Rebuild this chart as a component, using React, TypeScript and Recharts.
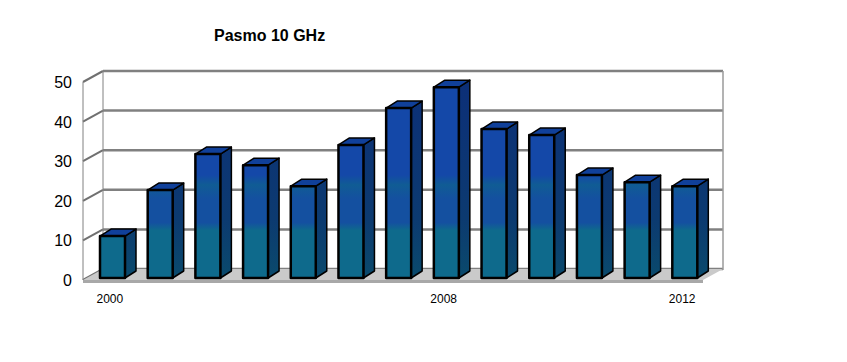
import React from 'react';
import { ComposedChart, Bar, XAxis, YAxis, CartesianGrid } from 'recharts';

const slots = [0, 1, 2, 3, 4, 5, 6, 7, 8, 9, 10, 11, 12];
const slotLabels = ['2000', '', '', '', '', '', '', '2008', '', '', '', '', '2012'];
const values = [10.6, 22.2, 31.3, 28.5, 23.2, 33.6, 42.9, 48.2, 37.6, 36.1, 26, 24.2, 23.2];
const yTicks = [0, 10, 20, 30, 40, 50];

const rows = slots.map((slot, i) => ({ slot, value: values[i] }));

const WIDTH = 847;
const HEIGHT = 362;
const margin = { top: 80, right: 138, bottom: 83, left: 88 };
const FONT = '"Liberation Sans", Arial, sans-serif';

// fake 3D offsets
const WALL_DX = 20;
const WALL_DY = -9;
const BAR_DX = 11;
const BAR_DY = -7;
const FRONT_LEFT = 83;
const FRONT_RIGHT = 703;
const FLOOR_Y = 280;

const Room = () => (
  <g>
    <polygon
      points={`${FRONT_LEFT},${FLOOR_Y} ${FRONT_LEFT + WALL_DX},${FLOOR_Y + WALL_DY - 2} ${FRONT_RIGHT + WALL_DX},${FLOOR_Y + WALL_DY - 2} ${FRONT_RIGHT},${FLOOR_Y}`}
      fill="#cacaca"
    />
    <line x1={FRONT_LEFT} y1={82} x2={FRONT_LEFT} y2={FLOOR_Y} stroke="#808080" />
    <line x1={FRONT_LEFT + WALL_DX} y1={71} x2={FRONT_LEFT + WALL_DX} y2={270} stroke="#808080" />
    <line x1={FRONT_RIGHT + WALL_DX} y1={71} x2={FRONT_RIGHT + WALL_DX} y2={270} stroke="#9a9a9a" strokeWidth={1.5} />
    <line x1={FRONT_LEFT} y1={281.5} x2={FRONT_RIGHT} y2={281.5} stroke="#a8a8a8" strokeWidth={3} />
  </g>
);

const gridLine = (props: any) => {
  const y = props.y1;
  return (
    <g key={props.key ?? y}>
      <line x1={FRONT_LEFT} y1={y + 2} x2={FRONT_LEFT + WALL_DX} y2={y + WALL_DY} stroke="#707070" strokeWidth={2} />
      <line x1={FRONT_LEFT + WALL_DX} y1={y + WALL_DY} x2={FRONT_RIGHT + WALL_DX} y2={y + WALL_DY} stroke="#808080" strokeWidth={2.5} />
    </g>
  );
};

const Bar3D = (props: any) => {
  const { x, y, width, height } = props;
  const top = `${x},${y} ${x + BAR_DX},${y + BAR_DY} ${x + width + BAR_DX},${y + BAR_DY} ${x + width},${y}`;
  const side = `${x + width},${y} ${x + width + BAR_DX},${y + BAR_DY} ${x + width + BAR_DX},${y + height + BAR_DY} ${x + width},${y + height}`;
  return (
    <g stroke="#000" strokeWidth={1.5} strokeLinejoin="round">
      <polygon points={side} fill="url(#sideFill)" />
      <polygon points={top} fill="#10409a" />
      <rect x={x} y={y} width={width} height={height} fill="url(#frontFill)" strokeWidth={2.5} />
    </g>
  );
};

const XTick = (props: any) => (
  <text x={props.x - 3} y={303} textAnchor="middle" fontFamily={FONT} fontSize={12} fill="#000">
    {slotLabels[props.payload.value]}
  </text>
);

const YTick = (props: any) => (
  <text x={72} y={props.y + 8} textAnchor="end" fontFamily={FONT} fontSize={16} fill="#000">
    {props.payload.value}
  </text>
);

export default function App() {
  return (
    <div style={{ position: 'absolute', left: 0, top: 0, width: WIDTH, height: HEIGHT, background: '#fff' }}>
      <ComposedChart width={WIDTH} height={HEIGHT} data={rows} margin={margin}>
        <defs>
          <linearGradient id="frontFill" gradientUnits="userSpaceOnUse" x1="0" y1="80" x2="0" y2="278">
            <stop offset="0" stopColor="#1448a8" />
            <stop offset="0.48" stopColor="#1448a8" />
            <stop offset="0.53" stopColor="#105c94" />
            <stop offset="0.6" stopColor="#1450a0" />
            <stop offset="0.72" stopColor="#1450a0" />
            <stop offset="0.76" stopColor="#0e6a8c" />
            <stop offset="1" stopColor="#0e6a8c" />
          </linearGradient>
          <linearGradient id="sideFill" gradientUnits="userSpaceOnUse" x1="0" y1="80" x2="0" y2="278">
            <stop offset="0" stopColor="#0c2f78" />
            <stop offset="0.7" stopColor="#0c3a70" />
            <stop offset="1" stopColor="#0a4a6c" />
          </linearGradient>
        </defs>
        <Room />
        <CartesianGrid vertical={false} horizontal={gridLine} />
        <XAxis dataKey="slot" type="category" interval={0} axisLine={false} tickLine={false} tick={XTick} height={1} />
        <YAxis domain={[0, 50]} ticks={yTicks} axisLine={false} tickLine={false} tick={YTick} width={1} />
        <Bar dataKey="value" barSize={25} shape={Bar3D} isAnimationActive={false} />
        <text x={214} y={41} fontFamily={FONT} fontSize={16} fontWeight="bold" fill="#000">
          Pasmo 10 GHz
        </text>
      </ComposedChart>
    </div>
  );
}
